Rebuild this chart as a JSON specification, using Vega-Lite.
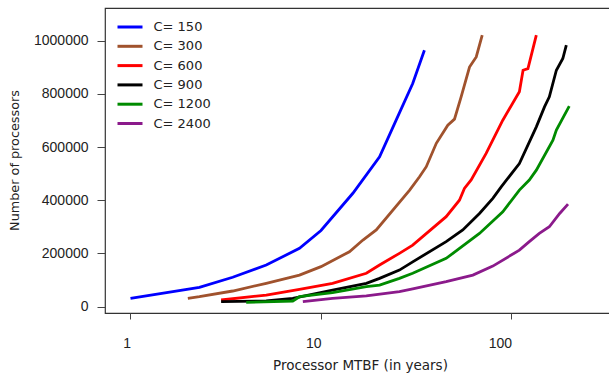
{
  "$schema": "https://vega.github.io/schema/vega-lite/v6.json",
  "autosize": "none",
  "padding": {"left": 105, "top": 8, "right": 0, "bottom": 61},
  "width": 505,
  "height": 305,
  "background": "white",
  "config": {
    "view": {"stroke": "#333333", "strokeWidth": 1.2},
    "axis": {"grid": false, "domain": false, "tickColor": "#444444", "labelColor": "#222222", "titleColor": "#222222", "titleFontWeight": "normal"}
  },
  "data": {
    "values": [
      {"C": "C= 150", "mtbf": 1.0, "procs": 30800},
      {"C": "C= 150", "mtbf": 2.3, "procs": 72000},
      {"C": "C= 150", "mtbf": 3.44, "procs": 110000},
      {"C": "C= 150", "mtbf": 5.16, "procs": 156000},
      {"C": "C= 150", "mtbf": 7.71, "procs": 219000},
      {"C": "C= 150", "mtbf": 10.0, "procs": 286000},
      {"C": "C= 150", "mtbf": 14.7, "procs": 426000},
      {"C": "C= 150", "mtbf": 20.3, "procs": 563000},
      {"C": "C= 150", "mtbf": 24.8, "procs": 701000},
      {"C": "C= 150", "mtbf": 30.3, "procs": 839000},
      {"C": "C= 150", "mtbf": 34.9, "procs": 964000},
      {"C": "C= 300", "mtbf": 2.0, "procs": 30800},
      {"C": "C= 300", "mtbf": 2.3, "procs": 36800},
      {"C": "C= 300", "mtbf": 3.44, "procs": 58300},
      {"C": "C= 300", "mtbf": 5.16, "procs": 87200},
      {"C": "C= 300", "mtbf": 7.71, "procs": 118000},
      {"C": "C= 300", "mtbf": 10.0, "procs": 150000},
      {"C": "C= 300", "mtbf": 14.1, "procs": 206000},
      {"C": "C= 300", "mtbf": 16.6, "procs": 250000},
      {"C": "C= 300", "mtbf": 19.5, "procs": 288000},
      {"C": "C= 300", "mtbf": 29.2, "procs": 438000},
      {"C": "C= 300", "mtbf": 32.9, "procs": 488000},
      {"C": "C= 300", "mtbf": 35.7, "procs": 526000},
      {"C": "C= 300", "mtbf": 40.3, "procs": 614000},
      {"C": "C= 300", "mtbf": 46.3, "procs": 682000},
      {"C": "C= 300", "mtbf": 50.2, "procs": 705000},
      {"C": "C= 300", "mtbf": 54.4, "procs": 789000},
      {"C": "C= 300", "mtbf": 60.2, "procs": 901000},
      {"C": "C= 300", "mtbf": 65.3, "procs": 939000},
      {"C": "C= 300", "mtbf": 70.2, "procs": 1021000},
      {"C": "C= 600", "mtbf": 2.99, "procs": 24400},
      {"C": "C= 600", "mtbf": 5.16, "procs": 43200},
      {"C": "C= 600", "mtbf": 7.71, "procs": 64700},
      {"C": "C= 600", "mtbf": 11.5, "procs": 87200},
      {"C": "C= 600", "mtbf": 17.3, "procs": 125000},
      {"C": "C= 600", "mtbf": 20.3, "procs": 156000},
      {"C": "C= 600", "mtbf": 25.8, "procs": 200000},
      {"C": "C= 600", "mtbf": 30.3, "procs": 231000},
      {"C": "C= 600", "mtbf": 45.4, "procs": 338000},
      {"C": "C= 600", "mtbf": 53.3, "procs": 400000},
      {"C": "C= 600", "mtbf": 56.6, "procs": 444000},
      {"C": "C= 600", "mtbf": 61.4, "procs": 476000},
      {"C": "C= 600", "mtbf": 73.6, "procs": 576000},
      {"C": "C= 600", "mtbf": 90.0, "procs": 701000},
      {"C": "C= 600", "mtbf": 110, "procs": 808000},
      {"C": "C= 600", "mtbf": 115, "procs": 889000},
      {"C": "C= 600", "mtbf": 122, "procs": 895000},
      {"C": "C= 600", "mtbf": 135, "procs": 1021000},
      {"C": "C= 900", "mtbf": 2.99, "procs": 18000},
      {"C": "C= 900", "mtbf": 5.16, "procs": 20700},
      {"C": "C= 900", "mtbf": 7.11, "procs": 30800},
      {"C": "C= 900", "mtbf": 11.5, "procs": 62000},
      {"C": "C= 900", "mtbf": 17.3, "procs": 87200},
      {"C": "C= 900", "mtbf": 20.3, "procs": 106000},
      {"C": "C= 900", "mtbf": 25.8, "procs": 137000},
      {"C": "C= 900", "mtbf": 30.3, "procs": 168000},
      {"C": "C= 900", "mtbf": 45.4, "procs": 244000},
      {"C": "C= 900", "mtbf": 55.5, "procs": 288000},
      {"C": "C= 900", "mtbf": 67.9, "procs": 350000},
      {"C": "C= 900", "mtbf": 79.8, "procs": 407000},
      {"C": "C= 900", "mtbf": 88.3, "procs": 450000},
      {"C": "C= 900", "mtbf": 110, "procs": 538000},
      {"C": "C= 900", "mtbf": 135, "procs": 676000},
      {"C": "C= 900", "mtbf": 149, "procs": 751000},
      {"C": "C= 900", "mtbf": 158, "procs": 789000},
      {"C": "C= 900", "mtbf": 172, "procs": 889000},
      {"C": "C= 900", "mtbf": 186, "procs": 933000},
      {"C": "C= 900", "mtbf": 194, "procs": 983000},
      {"C": "C= 1200", "mtbf": 4.05, "procs": 15800},
      {"C": "C= 1200", "mtbf": 7.11, "procs": 20700},
      {"C": "C= 1200", "mtbf": 7.71, "procs": 36800},
      {"C": "C= 1200", "mtbf": 11.5, "procs": 51900},
      {"C": "C= 1200", "mtbf": 17.3, "procs": 74400},
      {"C": "C= 1200", "mtbf": 20.3, "procs": 80800},
      {"C": "C= 1200", "mtbf": 25.8, "procs": 106000},
      {"C": "C= 1200", "mtbf": 30.3, "procs": 125000},
      {"C": "C= 1200", "mtbf": 45.4, "procs": 181000},
      {"C": "C= 1200", "mtbf": 67.9, "procs": 275000},
      {"C": "C= 1200", "mtbf": 90.0, "procs": 356000},
      {"C": "C= 1200", "mtbf": 110, "procs": 438000},
      {"C": "C= 1200", "mtbf": 124, "procs": 476000},
      {"C": "C= 1200", "mtbf": 135, "procs": 513000},
      {"C": "C= 1200", "mtbf": 165, "procs": 626000},
      {"C": "C= 1200", "mtbf": 172, "procs": 664000},
      {"C": "C= 1200", "mtbf": 201, "procs": 754000},
      {"C": "C= 2400", "mtbf": 8.03, "procs": 18000},
      {"C": "C= 2400", "mtbf": 11.5, "procs": 30800},
      {"C": "C= 2400", "mtbf": 17.3, "procs": 40000},
      {"C": "C= 2400", "mtbf": 25.8, "procs": 55600},
      {"C": "C= 2400", "mtbf": 30.3, "procs": 66000},
      {"C": "C= 2400", "mtbf": 45.4, "procs": 93200},
      {"C": "C= 2400", "mtbf": 62.7, "procs": 118000},
      {"C": "C= 2400", "mtbf": 79.8, "procs": 152000},
      {"C": "C= 2400", "mtbf": 110, "procs": 212000},
      {"C": "C= 2400", "mtbf": 124, "procs": 244000},
      {"C": "C= 2400", "mtbf": 140, "procs": 275000},
      {"C": "C= 2400", "mtbf": 158, "procs": 300000},
      {"C": "C= 2400", "mtbf": 179, "procs": 350000},
      {"C": "C= 2400", "mtbf": 198, "procs": 385000}
    ]
  },
  "mark": {"type": "line", "strokeWidth": 2.8, "clip": true},
  "encoding": {
    "x": {
      "field": "mtbf",
      "type": "quantitative",
      "scale": {"type": "log", "domain": [0.7348, 328.9], "nice": false},
      "axis": {
        "values": [1, 10, 100],
        "format": "~g",
        "title": "Processor MTBF (in years)",
        "tickSize": 6,
        "labelAlign": "right",
        "labelBaseline": "top",
        "labelPadding": 17,
        "labelFont": "Liberation Sans",
        "labelFontSize": 14,
        "titleFont": "DejaVu Sans",
        "titleFontSize": 13.5,
        "titleBaseline": "alphabetic",
        "titleY": 56,
        "titleX": 255
      }
    },
    "y": {
      "field": "procs",
      "type": "quantitative",
      "scale": {"domain": [-24450, 1123000], "nice": false, "zero": false},
      "axis": {
        "values": [0, 200000, 400000, 600000, 800000, 1000000],
        "format": "d",
        "title": "Number of processors",
        "tickSize": 8,
        "labelPadding": 9,
        "labelFont": "Liberation Sans",
        "labelFontSize": 14,
        "titleFont": "DejaVu Sans",
        "titleFontSize": 12.8,
        "titleBaseline": "alphabetic",
        "titleAngle": 270,
        "titleX": -87,
        "titleY": 152
      }
    },
    "color": {
      "field": "C",
      "type": "nominal",
      "scale": {
        "domain": ["C= 150", "C= 300", "C= 600", "C= 900", "C= 1200", "C= 2400"],
        "range": ["#0000FF", "#A0522D", "#FF0000", "#000000", "#008B00", "#8B1A8B"]
      },
      "legend": {
        "title": null,
        "orient": "none",
        "legendX": 18.5,
        "legendY": 12.5,
        "padding": 0,
        "symbolType": "M-2.5,0H2.5",
        "symbolSize": 100,
        "symbolStrokeWidth": 3,
        "labelFont": "DejaVu Sans",
        "labelFontSize": 13,
        "labelColor": "#222222",
        "labelOffset": 17,
        "rowPadding": 5.3
      }
    }
  }
}
